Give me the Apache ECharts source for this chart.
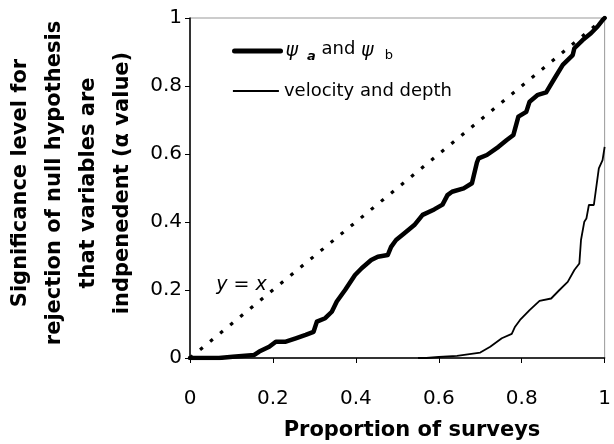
<!DOCTYPE html>
<html>
<head>
<meta charset="utf-8">
<script src="https://cdn.jsdelivr.net/npm/echarts@6/dist/echarts.min.js"></script>
<style>
html,body{margin:0;padding:0;background:#fff;}
#chart{width:614px;height:444px;}
</style>
</head>
<body>
<div id="chart"></div>
<script>
// ---- data ----
var xTicks = [0, 0.2, 0.4, 0.6, 0.8, 1];
var yTicks = [0, 0.2, 0.4, 0.6, 0.8, 1];

var psiX = [0, 0.07, 0.103, 0.155, 0.167, 0.191, 0.207, 0.231, 0.255, 0.279, 0.298, 0.306, 0.326, 0.342, 0.354, 0.374, 0.398, 0.414, 0.437, 0.453, 0.477, 0.485, 0.497, 0.517, 0.541, 0.561, 0.589, 0.609, 0.621, 0.632, 0.660, 0.680, 0.692, 0.696, 0.716, 0.744, 0.764, 0.780, 0.792, 0.811, 0.819, 0.839, 0.859, 0.879, 0.899, 0.923, 0.927, 0.947, 0.967, 0.983, 0.995, 1.0];
var psiY = [0, 0, 0.004, 0.009, 0.019, 0.033, 0.048, 0.048, 0.058, 0.068, 0.077, 0.107, 0.117, 0.136, 0.166, 0.200, 0.244, 0.264, 0.288, 0.298, 0.303, 0.327, 0.347, 0.367, 0.391, 0.421, 0.437, 0.451, 0.479, 0.489, 0.499, 0.514, 0.575, 0.587, 0.597, 0.621, 0.641, 0.656, 0.710, 0.724, 0.754, 0.774, 0.781, 0.822, 0.862, 0.891, 0.911, 0.935, 0.955, 0.975, 0.994, 1.0];

var velX = [0.55, 0.57, 0.60, 0.644, 0.700, 0.724, 0.752, 0.776, 0.784, 0.796, 0.819, 0.843, 0.871, 0.891, 0.911, 0.927, 0.939, 0.943, 0.951, 0.956, 0.962, 0.974, 0.986, 0.995, 1.0];
var velY = [0, 0, 0.003, 0.006, 0.016, 0.033, 0.058, 0.071, 0.092, 0.112, 0.141, 0.168, 0.175, 0.200, 0.224, 0.259, 0.278, 0.347, 0.401, 0.410, 0.450, 0.450, 0.558, 0.582, 0.621];

var refX = [0, 1];
var refY = [0, 1];

var seriesNames = ['psi', 'velocity and depth', 'y = x'];
var xTitle = 'Proportion of surveys';
var yTitle = ['Significance level for', 'rejection of null hypothesis', 'that variables are', 'indpenedent (\u03b1 value)'];
var refLabel = 'y = x';
var refLabelAt = [0.124, 0.215];

function pairs(xs, ys) { return xs.map(function (x, i) { return [x, ys[i]]; }); }

var FONT = 'DejaVu Sans';
var chart = echarts.init(document.getElementById('chart'), null, {renderer: 'canvas'});

var legendCommon = {
  orient: 'vertical',
  left: 227,
  itemWidth: 46,
  itemHeight: 14,
  itemStyle: {opacity: 0},
  textStyle: {fontFamily: FONT, fontSize: 18, color: '#000'}
};

chart.setOption({
  animation: false,
  backgroundColor: '#fff',
  grid: {left: 190, right: 5, top: 18, bottom: 86, show: true, borderColor: '#999', borderWidth: 1},
  xAxis: {
    type: 'value', min: 0, max: 1, interval: 0.2,
    axisLine: {show: true, lineStyle: {color: '#000', width: 1.5}},
    axisTick: {show: true, length: 5, lineStyle: {color: '#000', width: 1}},
    splitLine: {show: false},
    axisLabel: {fontFamily: FONT, fontSize: 20, color: '#000', margin: 31,
      formatter: function (v) { return String(xTicks.find(function (t) { return Math.abs(t - v) < 1e-9; })); }}
  },
  yAxis: {
    type: 'value', min: 0, max: 1, interval: 0.2,
    axisLine: {show: true, lineStyle: {color: '#000', width: 1.5}},
    axisTick: {show: true, length: 5, lineStyle: {color: '#000', width: 1}},
    splitLine: {show: false},
    axisLabel: {fontFamily: FONT, fontSize: 20, color: '#000', margin: 8,
      formatter: function (v) { return String(yTicks.find(function (t) { return Math.abs(t - v) < 1e-9; })); }}
  },
  legend: [
    Object.assign({}, legendCommon, {
      top: 35, data: [seriesNames[0]],
      lineStyle: {width: 5, color: '#000'},
      formatter: function () { return '{p|\u03c8}{a|a}{n| and }{p|\u03c8}{b|b}'; },
      textStyle: {fontFamily: FONT, fontSize: 18, color: '#000',
        rich: {
          p: {fontFamily: FONT, fontSize: 19, fontStyle: 'italic', color: '#000'},
          a: {fontFamily: FONT, fontSize: 13, fontStyle: 'italic', fontWeight: 'bold', color: '#000', padding: [12, 0, 0, 9]},
          b: {fontFamily: FONT, fontSize: 13, color: '#000', padding: [10, 0, 0, 11]},
          n: {fontFamily: FONT, fontSize: 18, color: '#000', padding: [0, 0, 4, 0]}
        }}
    }),
    Object.assign({}, legendCommon, {top: 77, data: [seriesNames[1]], lineStyle: {width: 1.8, color: '#000'}})
  ],
  series: [
    {
      name: seriesNames[0], type: 'line', data: pairs(psiX, psiY),
      symbol: 'none', showSymbol: false, smooth: false,
      lineStyle: {color: '#000', width: 4.5, join: 'round', cap: 'round'},
      itemStyle: {color: '#000'}
    },
    {
      name: seriesNames[1], type: 'line', data: pairs(velX, velY),
      symbol: 'none', showSymbol: false,
      lineStyle: {color: '#000', width: 1.8},
      itemStyle: {color: '#000'}
    },
    {
      name: seriesNames[2], type: 'line', data: pairs(refX, refY),
      symbol: 'none', showSymbol: false,
      lineStyle: {color: '#000', width: 3.2, type: [3.5, 9.5]},
      itemStyle: {color: '#000'},
      markPoint: {
        symbol: 'circle', symbolSize: 0, silent: true,
        label: {show: true, position: 'inside', formatter: refLabel, fontFamily: FONT, fontSize: 19, fontStyle: 'italic', color: '#000'},
        data: [{coord: refLabelAt}]
      }
    }
  ],
  graphic: [
    {type: 'text', x: 412, y: 431,
      style: {text: xTitle, font: 'bold 21px "DejaVu Sans"', fill: '#000', textAlign: 'center', textVerticalAlign: 'middle'}},
    {type: 'text', x: 72, y: 183, rotation: Math.PI / 2,
      style: {text: yTitle.join('\n'), font: 'bold 21px "DejaVu Sans"', fill: '#000', textAlign: 'center', textVerticalAlign: 'middle', lineHeight: 34}}
  ]
});
</script>
</body>
</html>
